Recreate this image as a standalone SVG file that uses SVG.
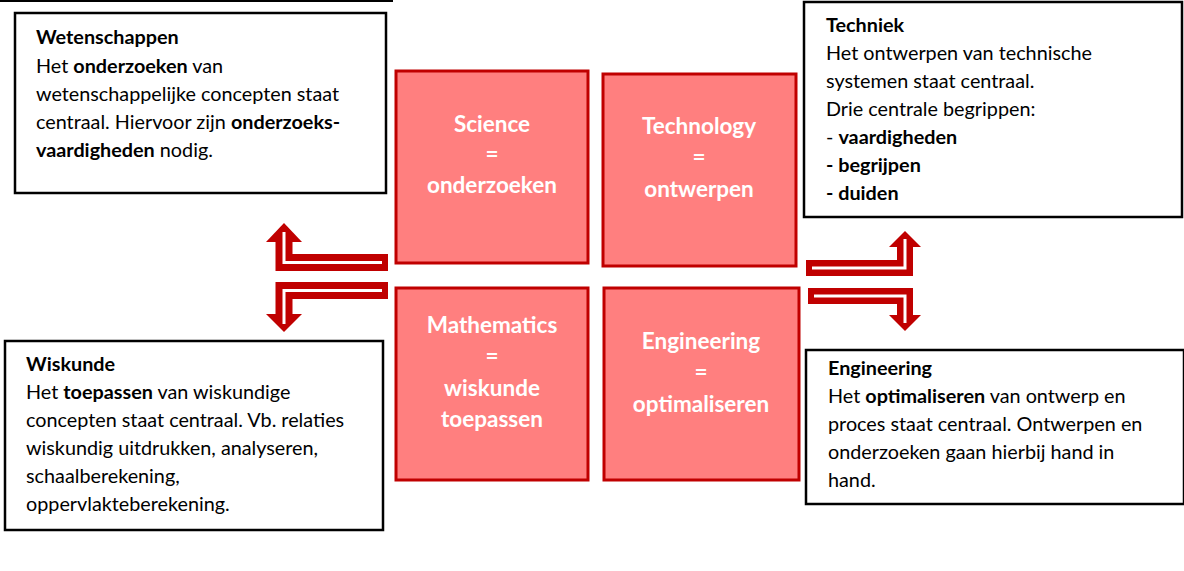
<svg xmlns="http://www.w3.org/2000/svg" width="1184" height="571" viewBox="0 0 1184 571">
<style>
.box{fill:#fff;stroke:#000;stroke-width:2.5}
.sq{fill:#FF7F7F;stroke:#C00000;stroke-width:3}
.t{font-family:Lato,"Open Sans","Liberation Sans",sans-serif;font-size:19.8px;fill:#000}
.b{font-weight:bold}
.w{font-family:Lato,"Open Sans","Liberation Sans",sans-serif;font-size:22.5px;font-weight:bold;fill:#fff;text-anchor:middle}
.shaft{fill:none;stroke:#C00000;stroke-width:17;stroke-linejoin:miter}
.core{fill:none;stroke:#fff;stroke-width:3;stroke-linejoin:miter}
.head{fill:#C00000}
</style>
<rect width="1184" height="571" fill="#fff"/>
<line x1="0" y1="1" x2="393" y2="1" stroke="#000" stroke-width="2"/>

<g id="connectors">
  <polyline class="shaft" points="388,262.5 284,262.5 284,240"/>
  <polygon class="head" points="266,242 284,223 302,242"/>
  <polyline class="core" points="382,262.5 284,262.5 284,232"/>

  <polyline class="shaft" points="388,290.5 284,290.5 284,316"/>
  <polygon class="head" points="266,314 284,332 302,314"/>
  <polyline class="core" points="382,290.5 284,290.5 284,324"/>

  <polyline class="shaft" style="stroke-width:16" points="806,268 905,268 905,246"/>
  <polygon class="head" points="889,247 905,231 921,247"/>
  <polyline class="core" points="812,268 905,268 905,239"/>

  <polyline class="shaft" style="stroke-width:16" points="808,296 905,296 905,316"/>
  <polygon class="head" points="889,315 905,331 921,315"/>
  <polyline class="core" points="814,296 905,296 905,323"/>
</g>

<g id="wetenschappen">
  <rect class="box" x="15" y="13" width="371" height="180"/>
  <text class="t b" x="36" y="44">Wetenschappen</text>
  <text class="t" x="36" y="73">Het <tspan class="b">onderzoeken</tspan> van</text>
  <text class="t" x="36" y="101">wetenschappelijke concepten staat</text>
  <text class="t" x="36" y="129">centraal. Hiervoor zijn <tspan class="b">onderzoeks-</tspan></text>
  <text class="t" x="36" y="157"><tspan class="b">vaardigheden</tspan> nodig.</text>
</g>

<g id="techniek">
  <rect class="box" x="804" y="2" width="378" height="215"/>
  <text class="t b" x="826" y="32">Techniek</text>
  <text class="t" x="826" y="60">Het ontwerpen van technische</text>
  <text class="t" x="826" y="88">systemen staat centraal.</text>
  <text class="t" x="826" y="116">Drie centrale begrippen:</text>
  <text class="t" x="826" y="144">- <tspan class="b">vaardigheden</tspan></text>
  <text class="t b" x="826" y="172">- begrijpen</text>
  <text class="t b" x="826" y="200">- duiden</text>
</g>

<g id="wiskunde">
  <rect class="box" x="5" y="341" width="378" height="189"/>
  <text class="t b" x="26" y="371">Wiskunde</text>
  <text class="t" x="26" y="399">Het <tspan class="b">toepassen</tspan> van wiskundige</text>
  <text class="t" x="26" y="427">concepten staat centraal. Vb. relaties</text>
  <text class="t" x="26" y="455">wiskundig uitdrukken, analyseren,</text>
  <text class="t" x="26" y="483">schaalberekening,</text>
  <text class="t" x="26" y="511">oppervlakteberekening.</text>
</g>

<g id="engineering-box">
  <rect class="box" x="806" y="350" width="378" height="154"/>
  <text class="t b" x="828" y="375">Engineering</text>
  <text class="t" x="828" y="403">Het <tspan class="b">optimaliseren</tspan> van ontwerp en</text>
  <text class="t" x="828" y="431">proces staat centraal. Ontwerpen en</text>
  <text class="t" x="828" y="459">onderzoeken gaan hierbij hand in</text>
  <text class="t" x="828" y="487">hand.</text>
</g>

<g id="science">
  <rect class="sq" x="396" y="71" width="192" height="192"/>
  <text class="w" x="492" y="132">Science</text>
  <text class="w" x="492" y="162">=</text>
  <text class="w" x="492" y="193">onderzoeken</text>
</g>

<g id="technology">
  <rect class="sq" x="603" y="74" width="193" height="192"/>
  <text class="w" x="699" y="134">Technology</text>
  <text class="w" x="699" y="165">=</text>
  <text class="w" x="699" y="197">ontwerpen</text>
</g>

<g id="mathematics">
  <rect class="sq" x="396" y="288" width="192" height="192"/>
  <text class="w" x="492" y="333">Mathematics</text>
  <text class="w" x="492" y="364">=</text>
  <text class="w" x="492" y="396">wiskunde</text>
  <text class="w" x="492" y="427">toepassen</text>
</g>

<g id="engineering">
  <rect class="sq" x="604" y="288" width="195" height="192"/>
  <text class="w" x="701" y="349">Engineering</text>
  <text class="w" x="701" y="380">=</text>
  <text class="w" x="701" y="412">optimaliseren</text>
</g>
</svg>
